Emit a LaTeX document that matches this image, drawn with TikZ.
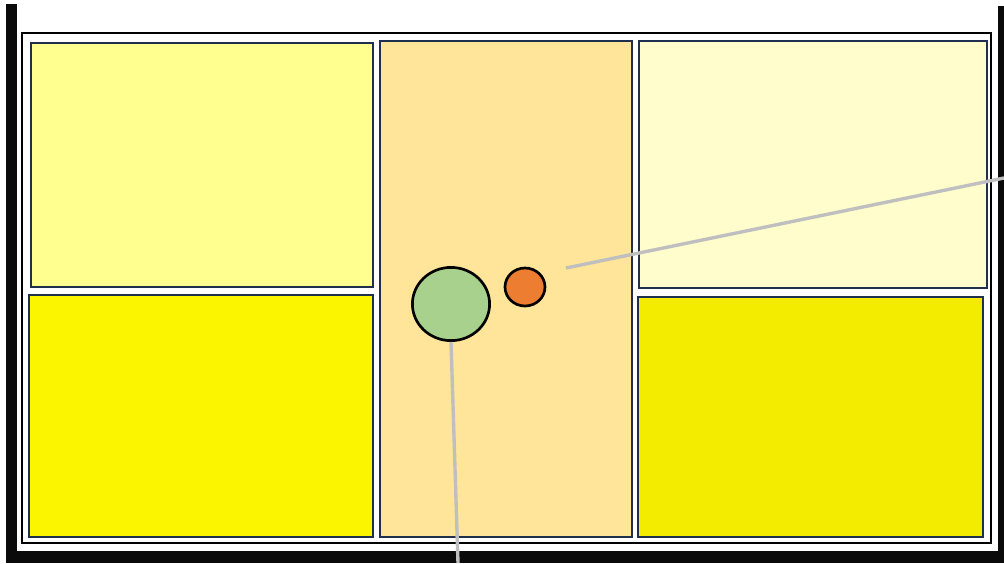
\documentclass[tikz,border=0pt]{standalone}
\usetikzlibrary{fit,shapes.geometric}
\definecolor{wall}{HTML}{0A0A0A}
\definecolor{edge}{HTML}{1F2F4F}
\definecolor{paleyellow}{HTML}{FFFF8F}
\definecolor{brightyellow}{HTML}{FBF500}
\definecolor{corridor}{HTML}{FFE599}
\definecolor{creamy}{HTML}{FFFDCC}
\definecolor{lemon}{HTML}{F3EB00}
\definecolor{leaf}{HTML}{A9D18E}
\definecolor{tangerine}{HTML}{ED7D31}
\definecolor{leader}{HTML}{BFBFBF}

\begin{document}
\begin{tikzpicture}[
  x=0.25mm, y=-0.25mm,
  every path/.style={line cap=butt},
  room/.style={rectangle, draw=edge, line width=1.7pt, inner sep=0pt, outer sep=0pt},
  marker/.style={ellipse, draw=black, line width=1.9pt, inner sep=0pt},
  lead/.style={leader, line width=2.4pt},
]
\useasboundingbox (0,0) rectangle (1004,563);

% ---------- walls ----------
\fill[wall] (6,4) rectangle (17,563);
\fill[wall] (6,551) rectangle (1004,563);
\fill[wall] (998,6) rectangle (1004,563);
\node[rectangle, draw=black, line width=1.6pt, inner sep=0pt, fit={(22,33) (991,543)}] (plan) {};

% ---------- rooms ----------
\node[room, fill=paleyellow,   fit={(31,43) (373,287)}]  (nw) {};
\node[room, fill=brightyellow, fit={(29,295) (373,537)}] (sw) {};
\node[room, fill=corridor,     fit={(380,41) (632,537)}] (hall) {};
\node[room, fill=creamy,       fit={(639,41) (987,288)}] (ne) {};
\node[room, fill=lemon,        fit={(638,297) (983,537)}] (se) {};

% ---------- markers ----------
\node[marker, fill=leaf, minimum width=19.3mm, minimum height=18.3mm] (green) at (451,304) {};
\node[marker, fill=tangerine, minimum width=10mm, minimum height=9.5mm] (orange) at (525,287) {};

% ---------- leader lines ----------
\coordinate (tagA) at (458,563);
\coordinate (tagB0) at (566,268);
\coordinate (tagB) at (1004,178);
\draw[lead] (green.south) -- (tagA);
\draw[lead] (tagB0) -- (tagB);

\end{tikzpicture}
\end{document}
